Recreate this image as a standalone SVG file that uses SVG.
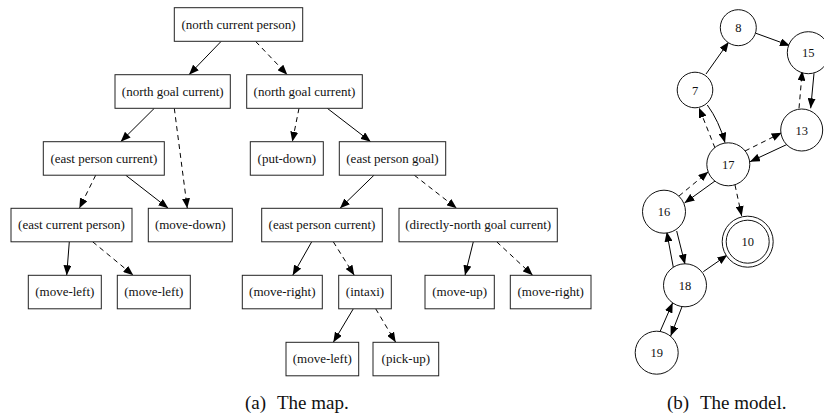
<svg xmlns="http://www.w3.org/2000/svg" width="824" height="417" viewBox="0 0 824 417">
  <defs>
    <marker id="ah" markerUnits="userSpaceOnUse" markerWidth="10" markerHeight="8" viewBox="0 0 10 8" refX="10" refY="4" orient="auto">
      <path d="M0,0 L10,4 L0,8 z" fill="#000"/>
    </marker>
    <style>
      .box rect { fill: #fff; stroke: #222; stroke-width: 1; }
      .node circle { fill: #fff; stroke: #111; stroke-width: 1; }
      text { font-family: "Liberation Serif", "Times New Roman", serif; fill: #111; }
      .box text { font-size: 13px; text-anchor: middle; }
      .node text { font-size: 12.5px; text-anchor: middle; }
      .cap { font-size: 19px; }
      .e { stroke: #000; stroke-width: 1; fill: none; marker-end: url(#ah); }
      .d { stroke-dasharray: 5 4; }
    </style>
  </defs>

  <rect width="824" height="417" fill="#fff"/>

  <!-- decision tree: edges -->
  <g id="tree-edges">
    <line class="e" x1="221" y1="41.5" x2="189" y2="74.7"/>
    <line class="e d" x1="255.7" y1="41.5" x2="287.3" y2="74.7"/>
    <line class="e" x1="154.3" y1="108.3" x2="120.7" y2="141.7"/>
    <line class="e d" x1="174.3" y1="108.3" x2="187.3" y2="208.3"/>
    <line class="e d" x1="299" y1="108.3" x2="292.3" y2="141.7"/>
    <line class="e" x1="327.3" y1="108.3" x2="370.7" y2="141.7"/>
    <line class="e d" x1="95.7" y1="175.2" x2="79.3" y2="208.3"/>
    <line class="e" x1="125.7" y1="175.2" x2="168.3" y2="208.3"/>
    <line class="e" x1="374" y1="175.2" x2="340" y2="208.3"/>
    <line class="e d" x1="414.3" y1="175.2" x2="456.7" y2="208.3"/>
    <line class="e" x1="69.3" y1="241.8" x2="66.7" y2="275.3"/>
    <line class="e d" x1="92.7" y1="241.8" x2="133.3" y2="275.3"/>
    <line class="e" x1="311.7" y1="241.8" x2="292.7" y2="275.3"/>
    <line class="e d" x1="333.3" y1="241.8" x2="354.3" y2="275.3"/>
    <line class="e" x1="473.3" y1="241.8" x2="465" y2="275.3"/>
    <line class="e d" x1="496.7" y1="241.8" x2="532.7" y2="275.3"/>
    <line class="e" x1="353.3" y1="308.8" x2="333.3" y2="342.3"/>
    <line class="e d" x1="375.7" y1="308.8" x2="395.7" y2="342.3"/>
  </g>

  <!-- decision tree: nodes -->
  <g id="t-ncp" class="box"><rect x="174.3" y="7.7" width="128.4" height="33.6"/><text x="238.5" y="28.7">(north current person)</text></g>
  <g id="t-ngc-l" class="box"><rect x="115" y="74.7" width="115.3" height="33.6"/><text x="172.7" y="95.7">(north goal current)</text></g>
  <g id="t-ngc-r" class="box"><rect x="246.7" y="74.7" width="115.6" height="33.6"/><text x="304.5" y="95.7">(north goal current)</text></g>
  <g id="t-epc-l" class="box"><rect x="43.3" y="141.7" width="121" height="33.5"/><text x="103.8" y="162.7">(east person current)</text></g>
  <g id="t-putdown" class="box"><rect x="250.3" y="141.7" width="73" height="33.5"/><text x="286.8" y="162.7">(put-down)</text></g>
  <g id="t-epg" class="box"><rect x="339.3" y="141.7" width="106.4" height="33.5"/><text x="392.5" y="162.7">(east person goal)</text></g>
  <g id="t-ecp" class="box"><rect x="11" y="208.3" width="121" height="33.5"/><text x="71.5" y="229.3">(east current person)</text></g>
  <g id="t-movedown" class="box"><rect x="148.3" y="208.3" width="84" height="33.5"/><text x="190.3" y="229.3">(move-down)</text></g>
  <g id="t-epc-m" class="box"><rect x="261.7" y="208.3" width="120.6" height="33.5"/><text x="322" y="229.3">(east person current)</text></g>
  <g id="t-dngc" class="box"><rect x="399" y="208.3" width="158.3" height="33.5"/><text x="478.2" y="229.3">(directly-north goal current)</text></g>
  <g id="t-moveleft-1" class="box"><rect x="28.3" y="275.3" width="73" height="33.5"/><text x="64.8" y="296.3">(move-left)</text></g>
  <g id="t-moveleft-2" class="box"><rect x="117.3" y="275.3" width="73" height="33.5"/><text x="153.8" y="296.3">(move-left)</text></g>
  <g id="t-moveright-1" class="box"><rect x="242.3" y="275.3" width="80" height="33.5"/><text x="282.3" y="296.3">(move-right)</text></g>
  <g id="t-intaxi" class="box"><rect x="338.7" y="275.3" width="52.6" height="33.5"/><text x="365" y="296.3">(intaxi)</text></g>
  <g id="t-moveup" class="box"><rect x="425" y="275.3" width="69.3" height="33.5"/><text x="459.7" y="296.3">(move-up)</text></g>
  <g id="t-moveright-2" class="box"><rect x="510.3" y="275.3" width="80.7" height="33.5"/><text x="550.7" y="296.3">(move-right)</text></g>
  <g id="t-moveleft-3" class="box"><rect x="286" y="342.3" width="72.7" height="33.5"/><text x="322.3" y="363.3">(move-left)</text></g>
  <g id="t-pickup" class="box"><rect x="373" y="342.3" width="65.7" height="33.5"/><text x="405.8" y="363.3">(pick-up)</text></g>

  <!-- state model: edges -->
  <g id="model-edges">
    <line class="e" x1="706" y1="74" x2="728.7" y2="42"/>
    <line class="e" x1="756" y1="33.3" x2="790" y2="45.7"/>
    <line class="e" x1="814" y1="73.3" x2="810.7" y2="108.3"/>
    <line class="e d" x1="799" y1="108.3" x2="802.3" y2="70.7"/>
    <line class="e" x1="787.3" y1="144.3" x2="750" y2="161.7"/>
    <line class="e d" x1="745" y1="151" x2="781.7" y2="132.7"/>
    <path class="e" d="M707.3,105 Q719,121 725,142.7"/>
    <line class="e d" x1="715" y1="148" x2="699" y2="107.7"/>
    <line class="e d" x1="679" y1="196" x2="708.3" y2="171.7"/>
    <line class="e" x1="715" y1="181" x2="684.5" y2="203"/>
    <line class="e d" x1="735" y1="185" x2="741.7" y2="216"/>
    <line class="e" x1="676.7" y1="231" x2="685" y2="264.3"/>
    <line class="e" x1="673.3" y1="267.3" x2="666.7" y2="231.7"/>
    <line class="e" x1="703.3" y1="271.7" x2="727.3" y2="255"/>
    <line class="e" x1="660" y1="331.7" x2="672.7" y2="302.7"/>
    <line class="e" x1="682" y1="306.7" x2="670.7" y2="336"/>
  </g>

  <!-- state model: nodes -->
  <g id="s8" class="node"><circle cx="738.3" cy="27.7" r="18"/><text x="738.3" y="32.2">8</text></g>
  <g id="s15" class="node"><circle cx="808.3" cy="52.7" r="21"/><text x="808.3" y="57.2">15</text></g>
  <g id="s7" class="node"><circle cx="695" cy="90" r="17.8"/><text x="695" y="94.5">7</text></g>
  <g id="s13" class="node"><circle cx="801.7" cy="130" r="21"/><text x="801.7" y="134.5">13</text></g>
  <g id="s17" class="node"><circle cx="728.3" cy="164.3" r="21.5"/><text x="728.3" y="168.8">17</text></g>
  <g id="s16" class="node"><circle cx="664" cy="211.7" r="21.5"/><text x="664" y="216.2">16</text></g>
  <g id="s10" class="node"><circle cx="747.7" cy="241.7" r="25.5"/><circle cx="747.7" cy="241.7" r="21.5"/><text x="747.7" y="246.2">10</text></g>
  <g id="s18" class="node"><circle cx="685" cy="285.3" r="21.5"/><text x="685" y="289.8">18</text></g>
  <g id="s19" class="node"><circle cx="656.7" cy="352.7" r="21.5"/><text x="656.7" y="357.2">19</text></g>

  <!-- captions -->
  <g id="captions">
    <text class="cap" x="245" y="409">(a)</text>
    <text class="cap" x="277" y="409">The map.</text>
    <text class="cap" x="667" y="409">(b)</text>
    <text class="cap" x="700" y="409">The model.</text>
  </g>
</svg>
